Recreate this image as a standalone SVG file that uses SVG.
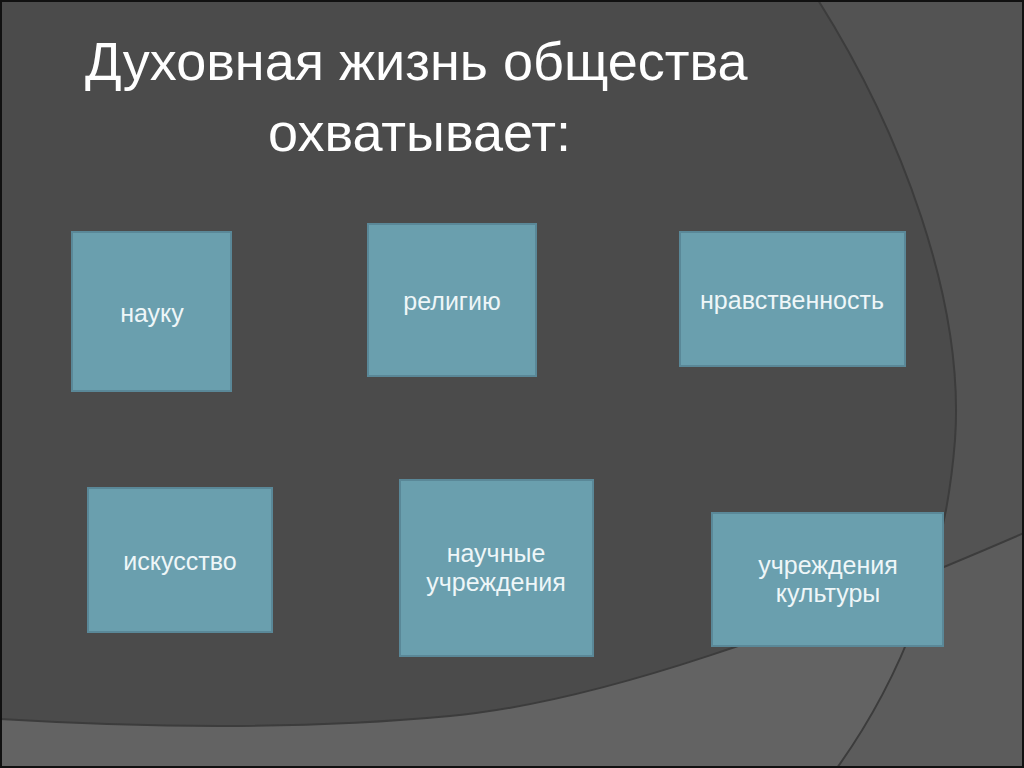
<svg xmlns="http://www.w3.org/2000/svg" width="1024" height="768" viewBox="0 0 1024 768">
<defs>
<clipPath id="rightOfArc">
<path d="M818,0 C900,130 965,300 955,440 C945,570 900,680 837,768 L1024,768 L1024,0 Z"/>
</clipPath>
</defs>
<style>
.box{fill:#6a9fae;stroke:#5a8898;stroke-width:2}
.lbl{font-family:"Liberation Sans",Arial,sans-serif;font-size:25px;fill:#eef6f8;text-anchor:middle}
.title{font-family:"Liberation Sans",Arial,sans-serif;font-size:54px;fill:#ffffff}
.edge{fill:none;stroke:#3c3c3c;stroke-width:2}
</style>
<g id="background">
<rect x="0" y="0" width="1024" height="768" fill="#4b4b4b"/>
<path d="M818,0 C900,130 965,300 955,440 C945,570 900,680 837,768 L1024,768 L1024,0 Z" fill="#535353"/>
<path d="M0,719 C150,728 300,730 450,716 C600,702 800,630 1024,533 L1024,768 L0,768 Z" fill="#636363"/>
<path clip-path="url(#rightOfArc)" d="M0,719 C150,728 300,730 450,716 C600,702 800,630 1024,533 L1024,768 L0,768 Z" fill="#5c5c5c"/>
<path class="edge" d="M818,0 C900,130 965,300 955,440 C945,570 900,680 837,768"/>
<path class="edge" d="M0,719 C150,728 300,730 450,716 C600,702 800,630 1024,533"/>
<rect x="1" y="1" width="1022" height="766" fill="none" stroke="#111" stroke-width="2"/>
</g>
<g id="title">
<text class="title" x="85" y="80">Духовная жизнь общества</text>
<text class="title" x="268" y="151">охватывает:</text>
</g>
<g id="connectors"></g>
<g id="node-nauka">
<rect class="box" x="72" y="232" width="159" height="159"/>
<text class="lbl" x="152" y="322">науку</text>
</g>
<g id="node-religiya">
<rect class="box" x="368" y="224" width="168" height="152"/>
<text class="lbl" x="452" y="310">религию</text>
</g>
<g id="node-nravstvennost">
<rect class="box" x="680" y="232" width="225" height="134"/>
<text class="lbl" x="792" y="309">нравственность</text>
</g>
<g id="node-iskusstvo">
<rect class="box" x="88" y="488" width="184" height="144"/>
<text class="lbl" x="180" y="570">искусство</text>
</g>
<g id="node-nauchnye">
<rect class="box" x="400" y="480" width="193" height="176"/>
<text class="lbl" x="496" y="562">научные</text>
<text class="lbl" x="496" y="591">учреждения</text>
</g>
<g id="node-kultura">
<rect class="box" x="712" y="513" width="231" height="133"/>
<text class="lbl" x="828" y="574">учреждения</text>
<text class="lbl" x="828" y="602">культуры</text>
</g>
</svg>
